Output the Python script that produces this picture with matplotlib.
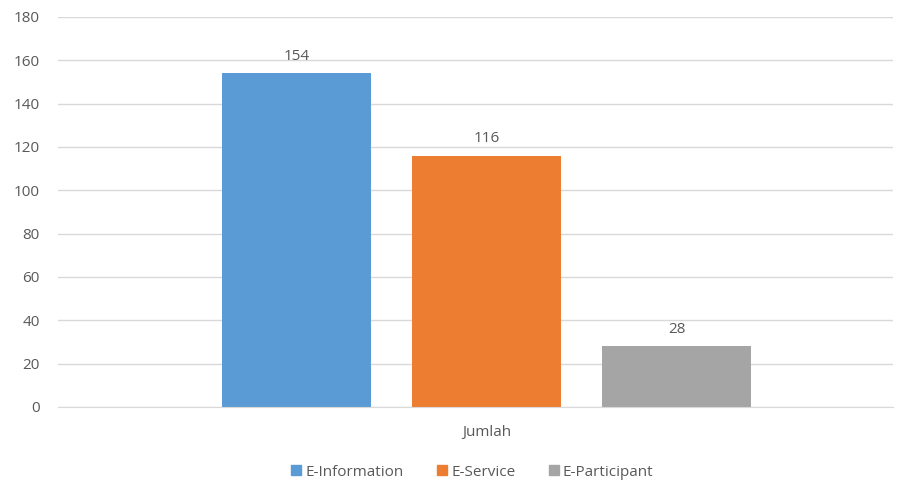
import numpy as np
import matplotlib.pyplot as plt

# jumlah layanan per kategori
series = ["E-Information", "E-Service", "E-Participant"]
values = [154, 116, 28]
colors = ["#5B9BD5", "#ED7D31", "#A5A5A5"]
category = "Jumlah"
yticks = [0, 20, 40, 60, 80, 100, 120, 140, 160, 180]

plt.rcParams['font.family'] = ['Open Sans', 'DejaVu Sans']
text_col = "#595959"
grid_col = "#D9D9D9"

fig = plt.figure(figsize=(9.06, 4.84), dpi=100)
ax = fig.add_axes([58/906, 77/484, 835/906, 390/484])

width = 0.784
offsets = np.arange(len(series)) - 1
for off, name, val, col in zip(offsets, series, values, colors):
    ax.bar(off, val, width=width, color=col, label=name, zorder=3)
    ax.annotate(str(val), (off, val), xytext=(0, 7), textcoords="offset points",
                ha="center", va="bottom", fontsize=11, color=text_col)

ax.set_xlim(-2.255, 2.139)
ax.set_ylim(0, 180)
ax.set_yticks(yticks)
ax.set_xticks([0])
ax.set_xticklabels([category])
ax.tick_params(axis="both", length=0, labelsize=11, labelcolor=text_col)
ax.tick_params(axis="y", pad=13)
ax.tick_params(axis="x", pad=13)
ax.grid(axis="y", color=grid_col, linewidth=1, zorder=0)
for side in ["left", "right", "top"]:
    ax.spines[side].set_visible(False)
ax.spines["bottom"].set_color(grid_col)
ax.spines["bottom"].set_zorder(4)

handles = [plt.Line2D([], [], marker="s", linestyle="none", markersize=7,
                      color=c) for c in colors]
leg = fig.legend(handles, series, loc="center", bbox_to_anchor=(471/906, 1 - 472/484),
                 ncol=3, frameon=False, fontsize=11, handletextpad=0.1,
                 columnspacing=2.0, handlelength=1.0)
for t in leg.get_texts():
    t.set_color(text_col)

fig.savefig("out.png", dpi=100)
